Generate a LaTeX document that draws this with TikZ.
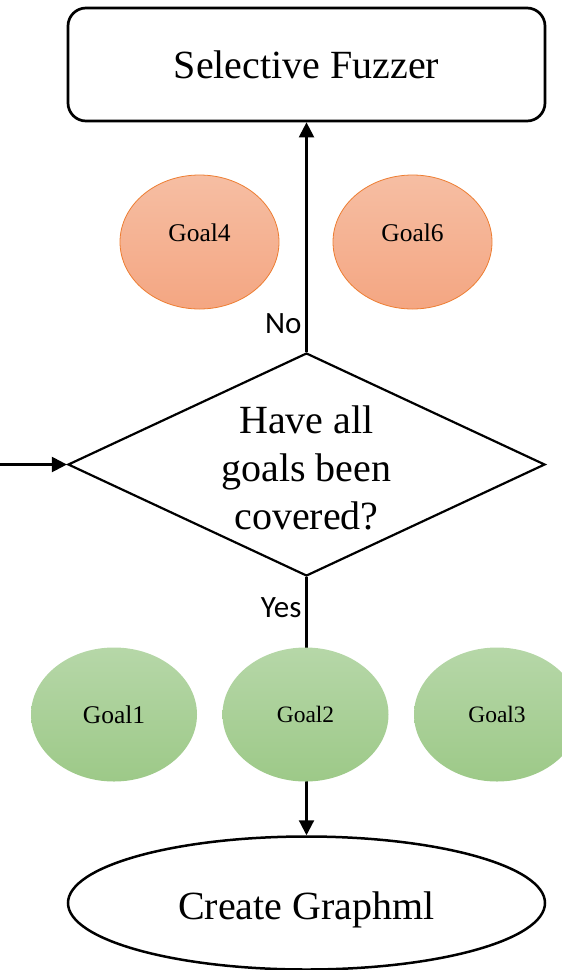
\documentclass[tikz,border=0pt]{standalone}
\usepackage{fontspec}
\setmainfont{Liberation Serif}
\newfontfamily\labelfont{Carlito}
\usetikzlibrary{shapes.geometric,arrows.meta}

\definecolor{orangetop}{HTML}{F6BEA3}
\definecolor{orangebot}{HTML}{F4A682}
\definecolor{orangeedge}{HTML}{ED7D31}
\definecolor{greentop}{HTML}{B6D7A8}
\definecolor{greenbot}{HTML}{9DC988}

\tikzset{
  flowline/.style={line width=2.2pt, draw=black},
  flowarrow/.style={flowline, -{Triangle[length=15pt,width=15pt]}},
  bigtext/.style={font=\fontsize{40}{48}\selectfont, align=center},
  procbox/.style={flowline, line width=2.7pt, rectangle, rounded corners=18pt, minimum width=477pt, minimum height=113pt, inner sep=0pt, bigtext},
  decision/.style={flowline, diamond, minimum width=477pt, minimum height=223pt, inner sep=0pt},
  terminal/.style={flowline, line width=2.5pt, ellipse, minimum width=477pt, minimum height=133pt, inner sep=0pt},
  pendinggoal/.style={ellipse, draw=orangeedge, line width=0.8pt, top color=orangetop, bottom color=orangebot,
    minimum width=159pt, minimum height=134pt, inner sep=0pt, font=\fontsize{25.5}{30}\selectfont},
  donegoal/.style={ellipse, top color=greentop, bottom color=greenbot,
    minimum width=166pt, minimum height=134pt, inner sep=0pt, font=\fontsize{25.5}{30}\selectfont},
  edgelabel/.style={font=\labelfont\fontsize{31}{36}\selectfont, inner sep=3pt}
}

\begin{document}
\begin{tikzpicture}[x=1pt, y=-1pt]
  \useasboundingbox (0,0) rectangle (562,970);

  % main flow
  \node[procbox] (fuzz) at (306.5,64.5) {Selective Fuzzer};
  \node[decision] (dec) at (306.5,464.5) {};
  \node[bigtext] (question) at (306.5,467.5) {Have all\\goals been\\covered?};
  \node[terminal] (graph) at (306.5,903) {};
  \node[bigtext] (graphtext) at (306.5,910) {Create Graphml};
  \coordinate (entry) at (0,464.5);

  % connectors
  \draw[flowarrow] (entry) -- (dec.west);
  \draw[flowarrow] (dec.north) -- node[edgelabel, pos=0.125, left, xshift=-1pt] {No} (fuzz.south);
  \draw[flowarrow] (dec.south) -- node[edgelabel, pos=0.12, left, xshift=-1pt] {Yes} (graph.north);

  % uncovered goals
  \node[pendinggoal] (g4) at (199.5,242) {\raisebox{18pt}{Goal4}};
  \node[pendinggoal] (g6) at (412.5,242) {\raisebox{18pt}{Goal6}};

  % covered goals
  \node[donegoal] (g1) at (114,714.5) {Goal1};
  \node[donegoal, font=\fontsize{23.5}{28}\selectfont] (g2) at (305.5,714.5) {Goal2};
  \node[donegoal, font=\fontsize{23.5}{28}\selectfont] (g3) at (497,714.5) {Goal3};
\end{tikzpicture}
\end{document}
